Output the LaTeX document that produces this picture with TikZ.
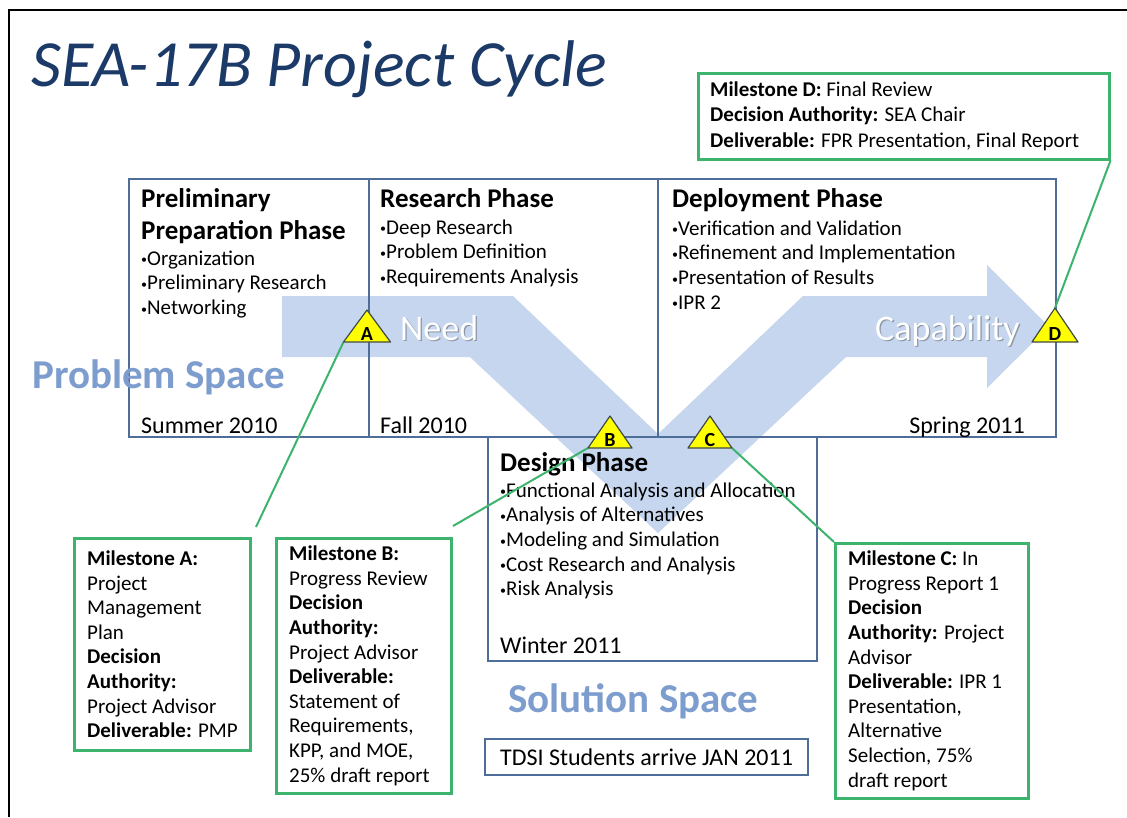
\documentclass[tikz,border=0pt]{standalone}
\usepackage{fontspec}
\setmainfont{Carlito}
\definecolor{navy}{HTML}{1B3A68}
\definecolor{boxblue}{HTML}{4E6D98}
\definecolor{arrowblue}{HTML}{C5D6EE}
\definecolor{spaceblue}{HTML}{7D9DCE}
\definecolor{msgreen}{HTML}{3DB46D}
\definecolor{triyellow}{HTML}{FFFF00}
\definecolor{triedge}{HTML}{3F4A45}
\definecolor{shadowgray}{HTML}{8C96A6}
\newcommand{\bul}{{\fontsize{12}{12}\selectfont\raisebox{0.2ex}{•}}}
\newcommand{\firstln}{\rule{0pt}{0.8em}}
\begin{document}
\begin{tikzpicture}[x=1pt, y=-1pt,
 phasebox/.style={draw=boxblue, line width=2pt, anchor=north west, inner sep=0pt},
 msbox/.style={draw=msgreen, line width=2.5pt, anchor=north west, inner sep=0pt},
 mstext/.style={anchor=west, align=left, inner sep=0pt, font=\fontsize{21}{24.6}\selectfont},
 phtitle/.style={anchor=north west, align=left, inner sep=0pt, font=\fontsize{27}{32}\selectfont\bfseries},
 bullets/.style={anchor=north west, align=left, inner sep=0pt, font=\fontsize{21}{24.7}\selectfont},
 datelbl/.style={inner sep=0pt, font=\fontsize{24}{28}\selectfont},
 conn/.style={draw=msgreen, line width=2pt},
 tri/.style={fill=triyellow, draw=triedge, line width=1.2pt, line join=round},
 trilet/.style={font=\fontsize{20}{20}\selectfont\bfseries, inner sep=0pt},
 spacelbl/.style={font=\fontsize{41}{41}\selectfont\bfseries, text=spaceblue, inner sep=0pt, anchor=base west},
 flowlbl/.style={font=\fontsize{36}{36}\selectfont, inner sep=0pt, anchor=base west}
]
\useasboundingbox (0,0) rectangle (1127,817);
\fill[white] (0,0) rectangle (1127,817);
\draw[line width=1.3pt] (9,817) -- (9,10) -- (1127,10);

% title
\node[anchor=base west, inner sep=0pt, text=navy, font=\fontsize{66}{66}\selectfont\itshape] (title) at (31,86) {SEA-17B Project Cycle};

% big arrow
\fill[arrowblue] (282,296) -- (513,296) -- (658,434) -- (803,296) -- (987,296) -- (987,265)
  -- (1049,326.5) -- (987,388) -- (987,357) -- (846,357) -- (658,533) -- (470,357) -- (282,357) -- cycle;

% phase boxes
\node[phasebox, minimum width=240pt, minimum height=258pt] (prep) at (128,178) {};
\node[phasebox, minimum width=289pt, minimum height=258pt] (research) at (368,178) {};
\node[phasebox, minimum width=398pt, minimum height=258pt] (deploy) at (657,178) {};
\node[phasebox, minimum width=329pt, minimum height=224pt] (design) at (487,436) {};

% phase texts
\node[phtitle] (preptitle) at (141,186) {\firstln Preliminary\\Preparation Phase};
\node[bullets] (prepbul) at (141,248) {\firstln\bul Organization\\\bul Preliminary Research\\\bul Networking};
\node[datelbl, anchor=base west] (prepdate) at (141,433) {Summer 2010};

\node[phtitle] (restitle) at (380,186) {\firstln Research Phase};
\node[bullets] (resbul) at (380,217) {\firstln\bul Deep Research\\\bul Problem Definition\\\bul Requirements Analysis};
\node[datelbl, anchor=base west] (resdate) at (380,433) {Fall 2010};

\node[phtitle] (deptitle) at (672,186) {\firstln Deployment Phase};
\node[bullets] (depbul) at (672,218) {\firstln\bul Verification and Validation\\\bul Refinement and Implementation\\\bul Presentation of Results\\\bul IPR 2};
\node[datelbl, anchor=base east] (depdate) at (1025,433) {Spring 2011};

\node[phtitle] (destitle) at (500,450) {\firstln Design Phase};
\node[bullets] (desbul) at (500,480) {\firstln\bul Functional Analysis and Allocation\\\bul Analysis of Alternatives\\\bul Modeling and Simulation\\\bul Cost Research and Analysis\\\bul Risk Analysis};
\node[datelbl, anchor=base west] (desdate) at (500,653) {Winter 2011};

% flow labels
\node[flowlbl, text=shadowgray] (needsh) at (401.2,341.2) {Need};
\node[flowlbl, text=white] (need) at (400,340) {Need};
\node[flowlbl, text=shadowgray] (capsh) at (876.2,341.2) {Capability};
\node[flowlbl, text=white] (cap) at (875,340) {Capability};

% space labels
\node[spacelbl] (probspace) at (32,388) {Problem Space};
\node[spacelbl] (solspace) at (508,712) {Solution Space};

% TDSI
\node[draw=boxblue, line width=1.5pt, minimum width=323pt, minimum height=36pt, inner sep=0pt, font=\fontsize{24}{28}\selectfont] (tdsi) at (646.5,757) {TDSI Students arrive JAN 2011};

% milestone boxes
\node[msbox, minimum width=176pt, minimum height=212pt] (msA) at (73,537) {};
\node[mstext] (msAtext) at ([xshift=14pt]msA.west) {\textbf{Milestone A:}\\Project\\Management\\Plan\\\textbf{Decision}\\\textbf{Authority:}\\Project Advisor\\\textbf{Deliverable:} PMP};

\node[msbox, minimum width=175pt, minimum height=255pt] (msB) at (275,537) {};
\node[mstext] (msBtext) at ([xshift=14pt]msB.west) {\textbf{Milestone B:}\\Progress Review\\\textbf{Decision}\\\textbf{Authority:}\\Project Advisor\\\textbf{Deliverable:}\\Statement of\\Requirements,\\KPP, and MOE,\\25\% draft report};

\node[msbox, minimum width=193pt, minimum height=255pt] (msC) at (834,542) {};
\node[mstext] (msCtext) at ([xshift=14pt]msC.west) {\textbf{Milestone C:} In\\Progress Report 1\\\textbf{Decision}\\\textbf{Authority:} Project\\Advisor\\\textbf{Deliverable:} IPR 1\\Presentation,\\Alternative\\Selection, 75\%\\draft report};

\node[msbox, minimum width=411pt, minimum height=86pt] (msD) at (697,72) {};
\node[mstext, font=\fontsize{21}{25.5}\selectfont] (msDtext) at ([xshift=13pt]msD.west) {\textbf{Milestone D:} Final Review\\\textbf{Decision Authority:} SEA Chair\\\textbf{Deliverable:} FPR Presentation, Final Report};

% triangle corner coordinates
\coordinate (Atop) at (367,310);  \coordinate (Aleft) at (343.5,342);
\coordinate (Btop) at (610,416);  \coordinate (Bleft) at (588,448);
\coordinate (Ctop) at (710,416);  \coordinate (Cright) at (732,448);
\coordinate (Dtop) at (1055,308); \coordinate (Dleft) at (1032,342);
\coordinate (Aend) at (256,527);
\coordinate (Bend) at (453,526);

% connectors
\draw[conn] (Aleft) -- (Aend);
\draw[conn] (Bleft) -- (Bend);
\draw[conn] (Cright) -- (msC.north west);
\draw[conn] (Dtop) -- (msD.south east);

% triangles
\draw[tri] (Atop) -- ++(23.5,32) -- ++(-47,0) -- cycle;
\draw[tri] (Btop) -- ++(22,32) -- ++(-44,0) -- cycle;
\draw[tri] (Ctop) -- ++(22,32) -- ++(-44,0) -- cycle;
\draw[tri] (Dtop) -- ++(23,34) -- ++(-46,0) -- cycle;
\node[trilet, anchor=base] (Alet) at (367,340) {A};
\node[trilet, anchor=base] (Blet) at (610,446) {B};
\node[trilet, anchor=base] (Clet) at (710,446) {C};
\node[trilet, anchor=base] (Dlet) at (1055,340) {D};
\end{tikzpicture}
\end{document}
